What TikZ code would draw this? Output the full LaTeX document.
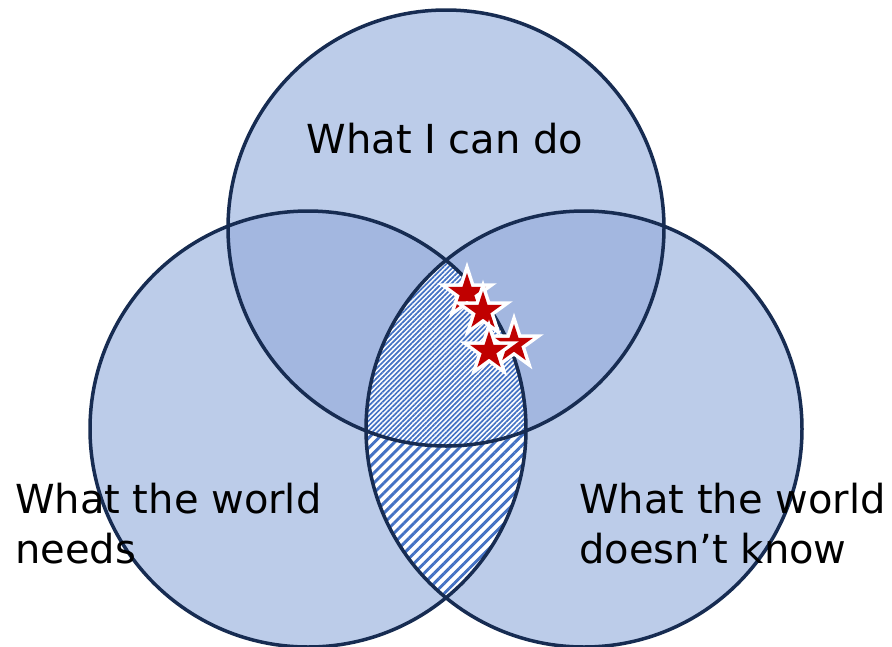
\documentclass[tikz,border=0pt]{standalone}
\usepackage{fontspec}
\setmainfont{DejaVu Sans}
\usetikzlibrary{shapes.geometric,patterns.meta}
\definecolor{basefill}{RGB}{188,204,233}
\definecolor{ovlfill}{RGB}{163,183,224}
\definecolor{edgecol}{RGB}{23,44,82}
\definecolor{hatchcol}{RGB}{68,114,196}
\definecolor{starred}{RGB}{192,0,0}
\tikzset{
  ring/.style={draw=edgecol, line width=3.5pt},
  starmark/.style={star, star points=5, star point ratio=2.618, minimum size=40pt,
    inner sep=0pt, fill=starred, preaction={draw=white, line width=7pt}},
  label/.style={font=\fontsize{40}{50}\selectfont, inner sep=0pt, align=left, text=black},
  widehatch/.style={pattern={Lines[angle=45,distance=7.1pt,line width=2.9pt]}, pattern color=hatchcol},
  densehatch/.style={pattern={Lines[angle=45,distance=3.5pt,line width=1.7pt]}, pattern color=hatchcol}
}
\begin{document}
\begin{tikzpicture}[x=1pt,y=-1pt]
\useasboundingbox (0,0) rectangle (892,646);
\coordinate (T) at (446,228);
\coordinate (L) at (308,429);
\coordinate (R) at (584,429);
% base fills
\fill[basefill] (T) circle[radius=218pt];
\fill[basefill] (L) circle[radius=218pt];
\fill[basefill] (R) circle[radius=218pt];
% pairwise overlaps with top
\begin{scope}
  \clip (T) circle[radius=218pt];
  \fill[ovlfill] (L) circle[radius=218pt];
  \fill[ovlfill] (R) circle[radius=218pt];
\end{scope}
% left-right lens hatched
\begin{scope}
  \clip (L) circle[radius=218pt];
  \fill[white] (R) circle[radius=218pt];
  \fill[widehatch] (R) circle[radius=218pt];
  \clip (T) circle[radius=218pt];
  \fill[white] (R) circle[radius=218pt];
  \fill[densehatch] (R) circle[radius=218pt];
\end{scope}
% outlines
\draw[ring] (T) circle[radius=218pt];
\draw[ring] (L) circle[radius=218pt];
\draw[ring] (R) circle[radius=218pt];
% stars
\node[starmark] (s1) at (467,293) {};
\node[starmark] (s2) at (483,311) {};
\node[starmark] (s4) at (514,344) {};
\node[starmark] (s3) at (489,351) {};
% labels
\node[label, anchor=base] (top) at (445,153) {What I can do};
\node[label, anchor=base west] (left) at (15,563) {What the world\\needs};
\node[label, anchor=base west] (right) at (579,563) {What the world\\doesn’t know};
\end{tikzpicture}
\end{document}
